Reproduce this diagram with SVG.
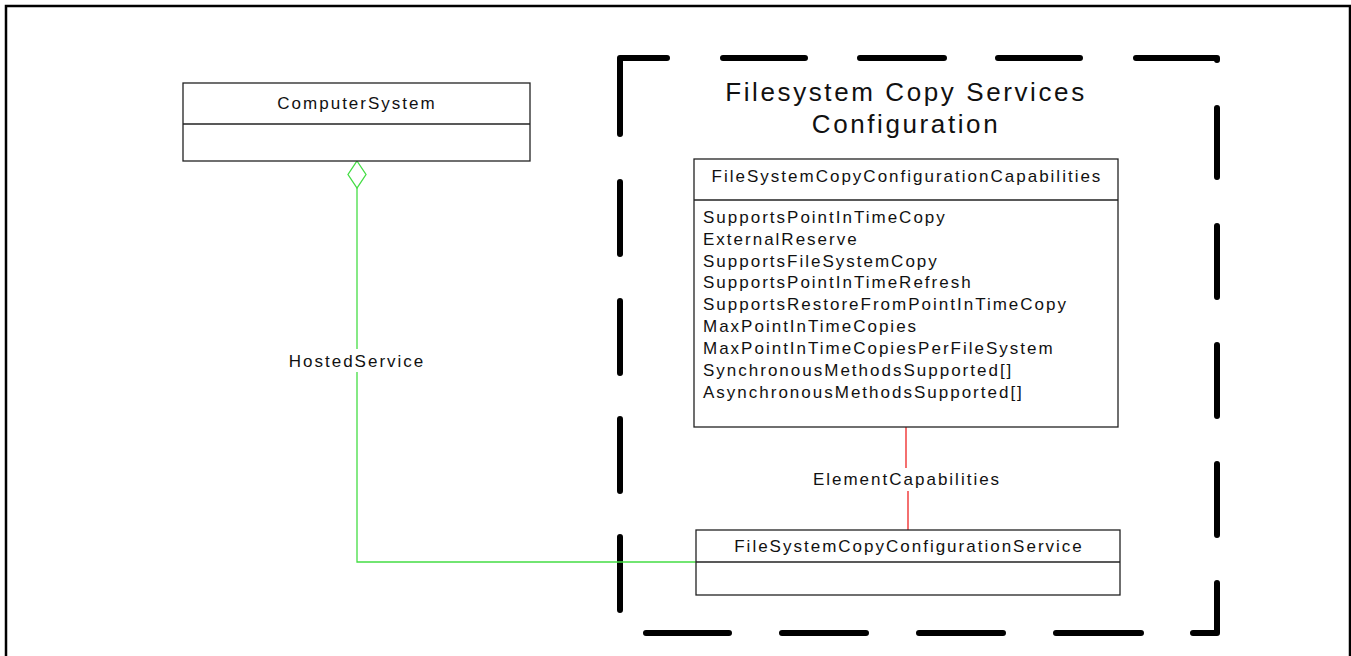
<svg xmlns="http://www.w3.org/2000/svg" width="1351" height="656" viewBox="0 0 1351 656">
<style>
text{font-family:"Liberation Sans",Arial,sans-serif;fill:#111;}
.t{font-size:17px;letter-spacing:2px;}
.ttl{font-size:26px;letter-spacing:2.6px;}
.box{fill:#fff;stroke:#222;stroke-width:1.3;}
.sep{stroke:#222;stroke-width:1.3;}
.dash{fill:none;stroke:#000;stroke-width:6;stroke-linecap:round;stroke-linejoin:round;}
.g{fill:none;stroke:#44dd44;stroke-width:1.3;}
.r{fill:none;stroke:#ee2222;stroke-width:1.3;}
</style>
<rect x="0" y="0" width="1351" height="656" fill="#fff"/>
<rect x="6" y="6" width="1344" height="700" fill="none" stroke="#000" stroke-width="2.5"/>
<g id="boundary">
<path class="dash" d="M620,134 L620,58 L667,58"/>
<path class="dash" d="M723,58 H805 M860,58 H944 M998,58 H1080"/>
<path class="dash" d="M1136,58 L1217,58 L1217,60"/>
<path class="dash" d="M1217,108 V177 M1217,226 V297 M1217,345 V416 M1217,464 V535"/>
<path class="dash" d="M1217,583 L1217,633 L1193,633"/>
<path class="dash" d="M646,633 H729 M782,633 H866 M919,633 H1003 M1056,633 H1141"/>
<path class="dash" d="M620,182 V254 M620,301 V373 M620,419 V491 M620,537 V610"/>
<text class="ttl" x="906" y="101" text-anchor="middle">Filesystem Copy Services</text>
<text class="ttl" x="906" y="133" text-anchor="middle">Configuration</text>
</g>
<g id="connectors">
<polyline class="g" points="357,349 357,188"/>
<polyline class="g" points="357,372 357,562 696,562"/>
<polygon points="357,161 366,174.5 357,188 348,174.5" fill="#fff" stroke="#44dd44" stroke-width="1.3"/>
<text class="t" x="357" y="367" text-anchor="middle">HostedService</text>
<line class="r" x1="906" y1="427" x2="906" y2="468"/>
<line class="r" x1="908" y1="491" x2="908" y2="530"/>
<text class="t" x="907" y="485" text-anchor="middle">ElementCapabilities</text>
</g>
<g id="ComputerSystem">
<rect class="box" x="183" y="83" width="347" height="78"/>
<line class="sep" x1="183" y1="124" x2="530" y2="124"/>
<text class="t" x="357" y="109" text-anchor="middle">ComputerSystem</text>
</g>
<g id="FileSystemCopyConfigurationCapabilities">
<rect class="box" x="694" y="159" width="424" height="268"/>
<line class="sep" x1="694" y1="200" x2="1118" y2="200"/>
<text class="t" x="907" y="182" text-anchor="middle">FileSystemCopyConfigurationCapabilities</text>
<text class="t" x="703" y="223">SupportsPointInTimeCopy</text>
<text class="t" x="703" y="245">ExternalReserve</text>
<text class="t" x="703" y="267">SupportsFileSystemCopy</text>
<text class="t" x="703" y="288">SupportsPointInTimeRefresh</text>
<text class="t" x="703" y="310">SupportsRestoreFromPointInTimeCopy</text>
<text class="t" x="703" y="332">MaxPointInTimeCopies</text>
<text class="t" x="703" y="354">MaxPointInTimeCopiesPerFileSystem</text>
<text class="t" x="703" y="376">SynchronousMethodsSupported[]</text>
<text class="t" x="703" y="398">AsynchronousMethodsSupported[]</text>
</g>
<g id="FileSystemCopyConfigurationService">
<rect class="box" x="696" y="530" width="424" height="65"/>
<line class="sep" x1="696" y1="562" x2="1120" y2="562"/>
<text class="t" x="909" y="552" text-anchor="middle">FileSystemCopyConfigurationService</text>
</g>
</svg>
